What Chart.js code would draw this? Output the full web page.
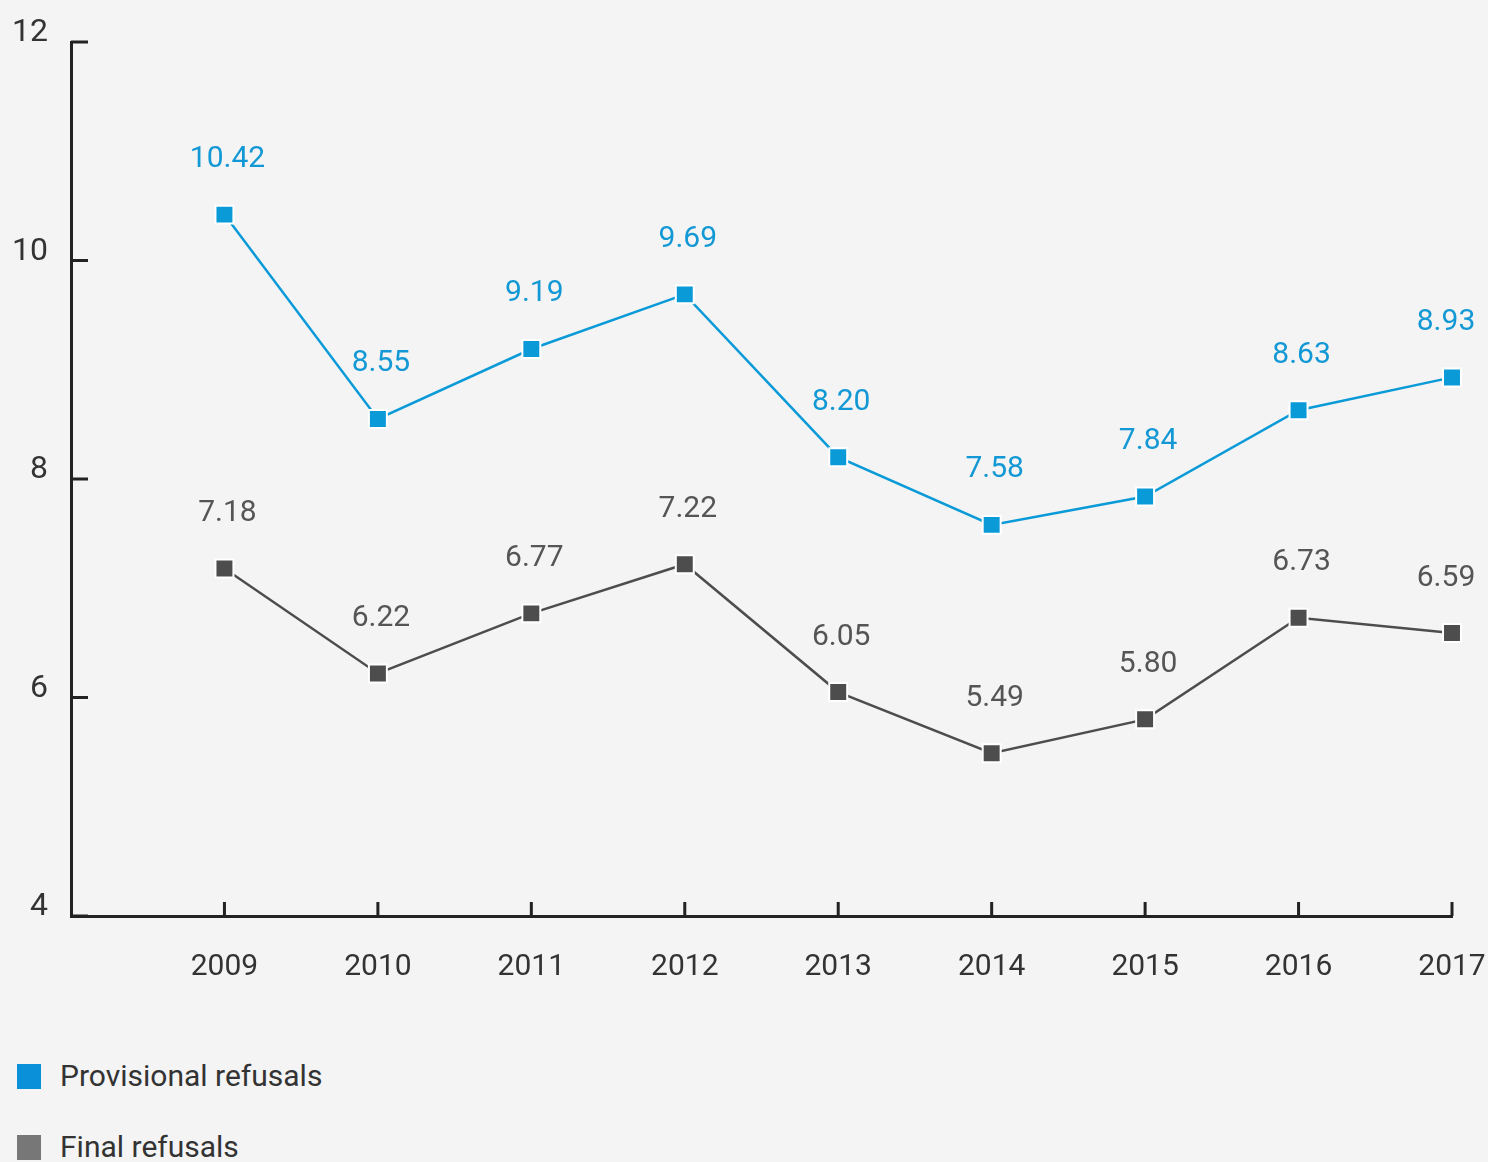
<!DOCTYPE html>
<html>
<head>
<meta charset="utf-8">
<script src="https://cdn.jsdelivr.net/npm/chart.js@4/dist/chart.umd.min.js"></script>
<style>
  html, body { margin: 0; padding: 0; background: #f4f4f4; }
  body { width: 1488px; height: 1162px; overflow: hidden; font-family: Roboto, sans-serif; }
  #wrap { position: relative; width: 1488px; height: 1010px; }
  #legend { position: absolute; left: 0; top: 1040px; }
  .item { position: absolute; left: 17px; height: 26px; display: flex; align-items: center; white-space: nowrap; }
  .sw { width: 24px; height: 25px; margin-right: 19px; }
  .lt { font-size: 30px; color: #333; line-height: 1; }
</style>
</head>
<body>
<div id="wrap"><canvas id="c"></canvas></div>
<div id="legend"></div>
<script>
const years = [2009, 2010, 2011, 2012, 2013, 2014, 2015, 2016, 2017];
const provisional = [10.42, 8.55, 9.19, 9.69, 8.20, 7.58, 7.84, 8.63, 8.93];
const finalRefusals = [7.18, 6.22, 6.77, 7.22, 6.05, 5.49, 5.80, 6.73, 6.59];
const seriesNames = ['Provisional refusals', 'Final refusals'];
const yTickValues = [4, 6, 8, 10, 12];

const BLUE = '#0a9ad8';
const GRAY = '#4d4d4d';
const LEGEND_COLORS = ['#0a8fd9', '#777777'];
const LABEL_COLORS = ['#1298d4', '#555555'];
const AXIS = '#222222';

const toPts = arr => arr.map((v, i) => ({ x: years[i], y: v }));

const inwardTicks = {
  id: 'inwardTicks',
  afterDraw(chart) {
    const ctx = chart.ctx;
    const xs = chart.scales.x, ys = chart.scales.y;
    ctx.save();
    ctx.strokeStyle = AXIS;
    ctx.lineWidth = 3;
    ctx.beginPath();
    yTickValues.forEach(v => {
      const py = ys.getPixelForValue(v);
      ctx.moveTo(xs.left, py);
      ctx.lineTo(xs.left + 17, py);
    });
    years.forEach(yr => {
      const px = xs.getPixelForValue(yr);
      ctx.moveTo(px, ys.bottom);
      ctx.lineTo(px, ys.bottom - 14);
    });
    ctx.stroke();
    ctx.restore();
  }
};

const valueLabels = {
  id: 'valueLabels',
  afterDatasetsDraw(chart) {
    const ctx = chart.ctx;
    ctx.save();
    ctx.font = '30px Roboto';
    ctx.textAlign = 'center';
    ctx.textBaseline = 'middle';
    chart.data.datasets.forEach((ds, di) => {
      const meta = chart.getDatasetMeta(di);
      ctx.fillStyle = LABEL_COLORS[di];
      meta.data.forEach((pt, i) => {
        const dx = i === meta.data.length - 1 ? -6 : 3;
        ctx.fillText(ds.data[i].y.toFixed(2), pt.x + dx, pt.y - 55);
      });
    });
    ctx.restore();
  }
};

const commonDs = {
  pointBorderColor: '#ffffff',
  pointBorderWidth: 2,
  pointStyle: 'rect',
  pointRadius: 12.7,
  pointHoverRadius: 12.7,
  borderWidth: 2.5,
  tension: 0,
  clip: false
};

const chart = new Chart(document.getElementById('c'), {
  type: 'line',
  data: {
    datasets: [
      Object.assign({
        label: seriesNames[0],
        data: toPts(provisional),
        borderColor: BLUE,
        backgroundColor: BLUE,
        pointBackgroundColor: BLUE
      }, commonDs),
      Object.assign({
        label: seriesNames[1],
        data: toPts(finalRefusals),
        borderColor: GRAY,
        backgroundColor: GRAY,
        pointBackgroundColor: GRAY
      }, commonDs)
    ]
  },
  options: {
    responsive: true,
    maintainAspectRatio: false,
    animation: false,
    layout: { padding: { top: 42, right: 36, left: 0, bottom: 0 } },
    plugins: { legend: { display: false }, tooltip: { enabled: false } },
    scales: {
      x: {
        type: 'linear',
        min: 2008,
        max: 2017,
        afterFit(s) { s.height = 94; s.paddingLeft = 0; s.paddingRight = 0; },
        afterBuildTicks(s) { s.ticks = [2008].concat(years).map(v => ({ value: v })); },
        ticks: {
          stepSize: 1,
          color: '#333',
          font: { family: 'Roboto', size: 30 },
          padding: 33,
          maxRotation: 0,
          autoSkip: false,
          callback: v => (years.includes(v) ? String(v) : '')
        },
        grid: { display: false, drawTicks: false },
        border: { display: true, color: AXIS, width: 3 }
      },
      y: {
        min: 4,
        max: 12,
        afterFit(s) { s.width = 71; s.paddingTop = 0; s.paddingBottom = 0; },
        afterBuildTicks(s) { s.ticks = yTickValues.map(v => ({ value: v })); },
        ticks: {
          color: '#333',
          font: { family: 'Roboto', size: 32 },
          padding: 23,
          labelOffset: -9
        },
        grid: { display: false, drawTicks: false },
        border: { display: true, color: AXIS, width: 3 }
      }
    }
  },
  plugins: [inwardTicks, valueLabels]
});

// HTML legend built from the chart's datasets
const legend = document.getElementById('legend');
chart.data.datasets.forEach((ds, i) => {
  const item = document.createElement('div');
  item.className = 'item';
  item.style.top = (23 + i * 71) + 'px';
  const sw = document.createElement('span');
  sw.className = 'sw';
  sw.style.background = LEGEND_COLORS[i];
  const t = document.createElement('span');
  t.className = 'lt';
  t.textContent = ds.label;
  item.appendChild(sw);
  item.appendChild(t);
  legend.appendChild(item);
});
</script>
</body>
</html>
